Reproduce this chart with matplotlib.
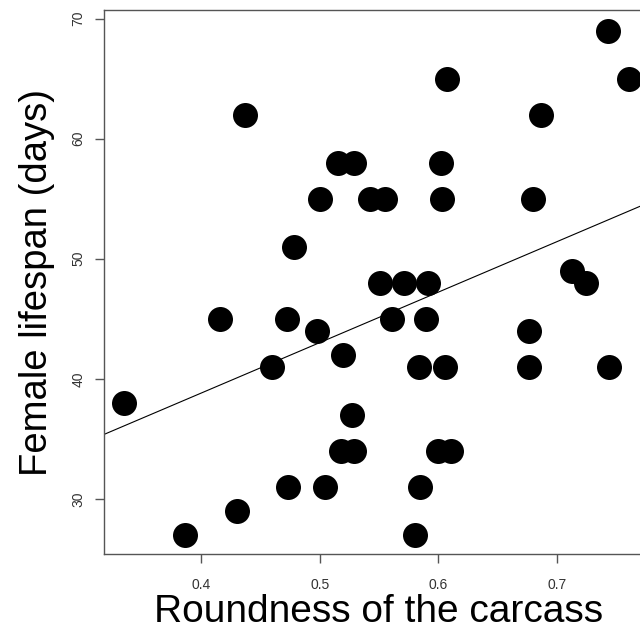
import numpy as np
import matplotlib
matplotlib.use("Agg")
import matplotlib.pyplot as plt

plt.rcParams['font.family'] = ['Liberation Sans', 'DejaVu Sans']

roundness = [0.335, 0.386, 0.430, 0.437, 0.416, 0.460, 0.472, 0.478, 0.473,
             0.500, 0.498, 0.504, 0.520, 0.515, 0.529, 0.527, 0.518, 0.529,
             0.542, 0.555, 0.551, 0.571, 0.561, 0.591, 0.590, 0.584, 0.585,
             0.580, 0.602, 0.603, 0.607, 0.606, 0.600, 0.611, 0.680, 0.687,
             0.677, 0.677, 0.713, 0.725, 0.743, 0.761, 0.744]
lifespan = [38, 27, 29, 62, 45, 41, 45, 51, 31,
            55, 44, 31, 42, 58, 58, 37, 34, 34,
            55, 55, 48, 48, 45, 48, 45, 41, 31,
            27, 58, 55, 65, 41, 34, 34, 55, 62,
            44, 41, 49, 48, 69, 65, 41]

x_ticks = [0.4, 0.5, 0.6, 0.7]
y_ticks = [30, 40, 50, 60, 70]

fig = plt.figure(figsize=(6.4, 6.29), dpi=100)
ax = fig.add_axes([0.1625, 0.1192, 0.859, 0.8649])

ax.plot(roundness, lifespan, 'o', color='black', markersize=18, markeredgewidth=0)

slope, intercept = np.polyfit(roundness, lifespan, 1)
xl = np.array([0.30, 0.80])
ax.plot(xl, intercept + slope * xl, color='black', linewidth=0.8)

ax.set_xlim(0.3178, 0.782)
ax.set_ylim(25.4, 70.72)
ax.set_xticks(x_ticks)
ax.set_xticklabels([str(v) for v in x_ticks])
ax.set_yticks(y_ticks)
ax.set_yticklabels([str(v) for v in y_ticks], rotation=90, va='center')

for s in ax.spines.values():
    s.set_color('#555555')
    s.set_linewidth(1.0)
ax.tick_params(length=6.5, width=1.0, color='#555555', labelsize=10,
               labelcolor='#333333')
ax.tick_params(axis='x', pad=11)
ax.tick_params(axis='y', pad=7)

ax.set_xlabel('Roundness of the carcass', fontsize=28, labelpad=1)
ax.set_ylabel('Female lifespan (days)', fontsize=27.5, labelpad=12)

fig.savefig('out.png', dpi=100)
